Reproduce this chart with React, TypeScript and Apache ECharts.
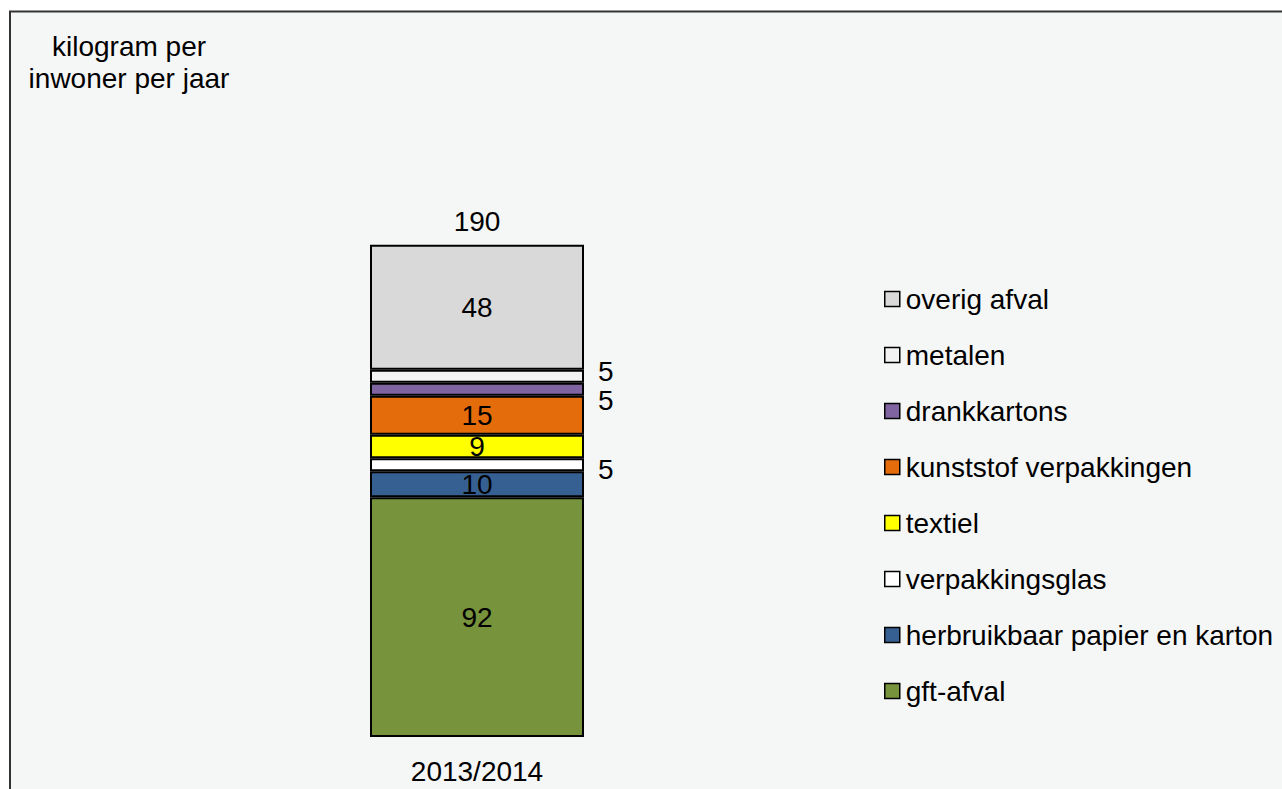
import React, { useEffect, useRef } from "react";
import * as echarts from "echarts";

const categories = ["2013/2014"];
const seriesNames = [
  "gft-afval",
  "herbruikbaar papier en karton",
  "verpakkingsglas",
  "textiel",
  "kunststof verpakkingen",
  "drankkartons",
  "metalen",
  "overig afval",
];
const seriesValues = [92, 10, 5, 9, 15, 5, 5, 48];
const totalValue = 190;
const yAxisTitle = "kilogram per\ninwoner per jaar";

const seriesColors = [
  "#77933c",
  "#376092",
  "#ffffff",
  "#ffff00",
  "#e46c0a",
  "#8064a2",
  "#f2f2f2",
  "#d9d9d9",
];
// label placement per series (style only)
const labelStyles: any[] = [
  { position: "inside" },
  { position: "inside" },
  { position: "right", distance: 14, offset: [0, 5] },
  { position: "inside" },
  { position: "inside" },
  { position: "right", distance: 14, offset: [0, 11] },
  { position: "right", distance: 14, offset: [0, -5] },
  { position: "inside" },
];

const FONT = "'Liberation Sans', Arial, sans-serif";
const FS = 28;

export default function App() {
  const ref = useRef<HTMLDivElement>(null);
  useEffect(() => {
    const chart = echarts.init(ref.current!, null, { renderer: "svg" });
    const series: any[] = seriesNames.map((name, i) => ({
      name,
      type: "bar",
      stack: "total",
      barWidth: "100%",
      data: [seriesValues[i]],
      itemStyle: { color: seriesColors[i], borderColor: "#000", borderWidth: 2 },
      label: {
        show: true,
        color: "#000",
        fontSize: FS,
        fontFamily: FONT,
        ...labelStyles[i],
      },
    }));
    series.push({
      name: "totaal",
      type: "bar",
      stack: "total",
      barWidth: "100%",
      data: [0],
      itemStyle: { color: "transparent", borderWidth: 0 },
      label: {
        show: true,
        position: "top",
        distance: 9,
        color: "#000",
        fontSize: FS,
        fontFamily: FONT,
        formatter: () => String(totalValue),
      },
    });
    chart.setOption({
      animation: false,
      textStyle: { fontFamily: FONT },
      graphic: [
        {
          type: "rect",
          z: -10,
          shape: { x: 10, y: 11.5, width: 1300, height: 800 },
          style: { fill: "#f5f6f6", stroke: "#333", lineWidth: 2 },
        },
        {
          type: "text",
          x: 129,
          y: 30,
          style: {
            text: yAxisTitle,
            fontSize: FS,
            fontFamily: FONT,
            fill: "#000",
            lineHeight: 32,
            textAlign: "center",
            textVerticalAlign: "top",
          },
        },
      ],
      grid: { left: 370, right: 698, top: 216, bottom: 52 },
      xAxis: {
        type: "category",
        data: categories,
        axisLine: { show: false },
        axisTick: { show: false },
        axisLabel: { color: "#000", fontSize: FS, fontFamily: FONT, margin: 20 },
      },
      yAxis: { type: "value", min: 0, max: 200, show: false, splitLine: { show: false } },
      legend: {
        orient: "vertical",
        left: 879,
        top: 280,
        icon: "rect",
        itemWidth: 15,
        itemHeight: 15,
        itemGap: 28,
        data: seriesNames.slice().reverse(),
        itemStyle: { borderColor: "#000", borderWidth: 1.5 },
        textStyle: { color: "#000", fontSize: FS, fontFamily: FONT, lineHeight: 28, padding: [0, 0, 0, 1] },
      },
      series,
    });
    return () => chart.dispose();
  }, []);
  return (
    <div
      ref={ref}
      style={{ position: "fixed", left: 0, top: 0, width: 1282, height: 789, background: "#fff" }}
    />
  );
}
